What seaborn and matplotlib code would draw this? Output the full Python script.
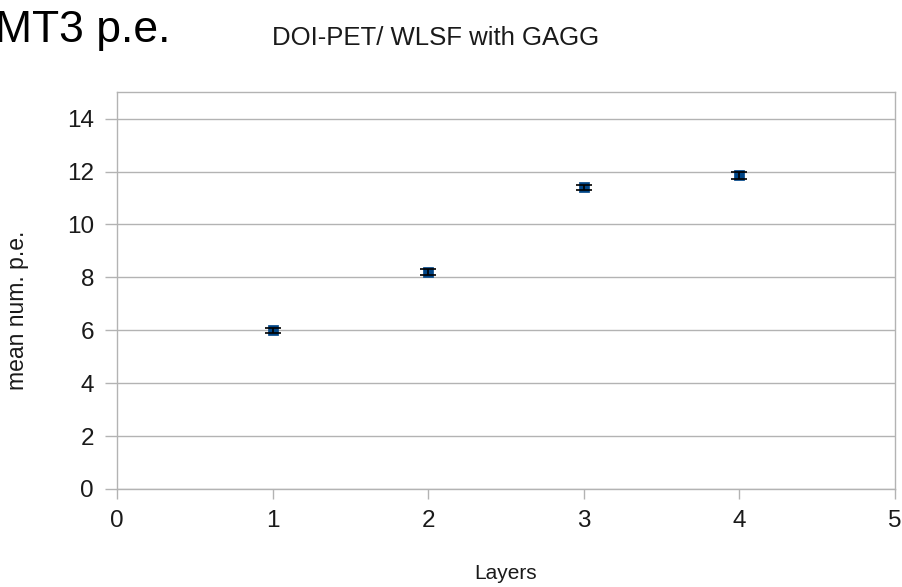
import matplotlib
matplotlib.use('Agg')
import matplotlib.pyplot as plt
import pandas as pd
import seaborn as sns

# data
layers = [1, 2, 3, 4]
mean_pe = [6.0, 8.2, 11.4, 11.85]
err_pe = [0.1, 0.12, 0.1, 0.12]
x_ticks = [0, 1, 2, 3, 4, 5]
y_ticks = [0, 2, 4, 6, 8, 10, 12, 14]

df = pd.DataFrame({'Layers': layers, 'pe': mean_pe, 'err': err_pe})

sns.set_style('whitegrid')
plt.rcParams['font.family'] = ['Liberation Sans', 'DejaVu Sans']

fig = plt.figure(figsize=(9.02, 5.87), dpi=100)
ax = fig.add_axes([0.1297, 0.167, 0.8623, 0.676])

# error bars first, markers on top
ax.errorbar(df['Layers'], df['pe'], yerr=df['err'], fmt='none',
            ecolor='black', elinewidth=1.2, capsize=5.5, capthick=1.2, zorder=3)
sns.scatterplot(data=df, x='Layers', y='pe', marker='s', color='#004586',
                s=50, edgecolor='#004586', linewidth=0.5, ax=ax, zorder=2)

ax.set_xlim(0, 5)
ax.set_ylim(0, 15)
ax.set_xticks(x_ticks)
ax.set_yticks(y_ticks)
ax.grid(axis='x', visible=False)
ax.grid(axis='y', color='#b3b3b3', linewidth=1)
for sp in ax.spines.values():
    sp.set_visible(True)
    sp.set_color('#b3b3b3')
    sp.set_linewidth(1)
ax.tick_params(axis='both', which='major', labelsize=17.5, colors='#b3b3b3',
               labelcolor='#1a1a1a', width=1, direction='out',
               bottom=True, left=True)
ax.tick_params(axis='y', length=8.5, pad=8)
ax.tick_params(axis='x', length=7.5, pad=8)

ax.set_xlabel('Layers', fontsize=15, color='#1a1a1a')
ax.set_ylabel('mean num. p.e.', fontsize=16.5, color='#1a1a1a')
ax.xaxis.set_label_coords(0.5, -0.19)
ax.yaxis.set_label_coords(-0.113, 0.45)

fig.text(-0.006, 0.928, 'MT3 p.e.', fontsize=32, color='black', va='baseline')
fig.text(0.301, 0.924, 'DOI-PET/ WLSF with GAGG', fontsize=18.5,
         color='#1a1a1a', va='baseline')

fig.savefig('out.png', dpi=100)
